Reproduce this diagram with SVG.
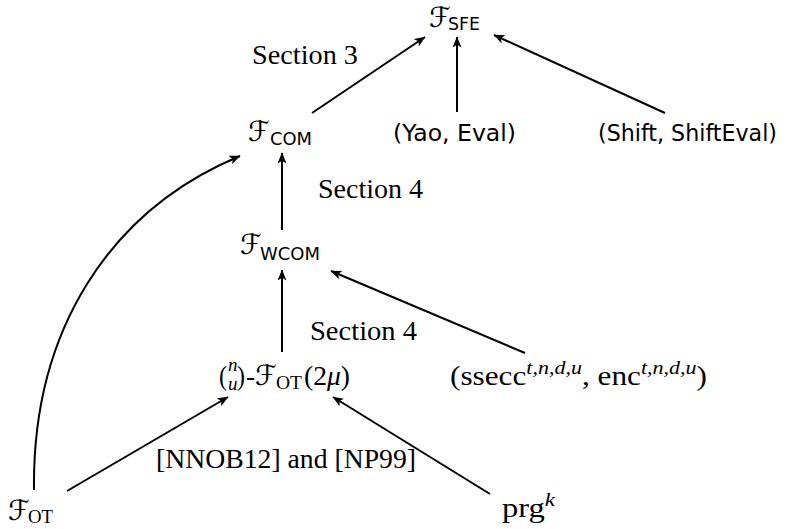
<svg xmlns="http://www.w3.org/2000/svg" width="795" height="529" viewBox="0 0 795 529">
  <style>
    .rm { font-family: "Liberation Serif", "DejaVu Serif", serif; font-size: 27px; fill: #000; }
    .sf { font-family: "DejaVu Sans", "Liberation Sans", sans-serif; font-size: 22.5px; fill: #000; }
    .cal { font-family: "DejaVu Sans", "DejaVu Serif", serif; font-size: 28px; fill: #000; }
    .sub-sf { font-family: "DejaVu Sans", "Liberation Sans", sans-serif; font-size: 17.5px; fill: #000; }
    .sub-rm { font-family: "Liberation Serif", "DejaVu Serif", serif; font-size: 19px; fill: #000; }
    .it { font-style: italic; }
    .sup { font-family: "Liberation Serif", "DejaVu Serif", serif; font-size: 19px; font-style: italic; }
    .edge { fill: none; stroke: #000; stroke-width: 2; marker-end: url(#tip); }
  </style>
  <defs>
    <marker id="tip" markerUnits="userSpaceOnUse" markerWidth="13" markerHeight="10" refX="10.5" refY="4.5" orient="auto">
      <path d="M0,0 L11,4.5 L0,9 L2.8,4.5 Z" fill="#000"/>
    </marker>
  </defs>

  <!-- connectors -->
  <g id="edges">
    <path class="edge" d="M312,113 L425,37"/>
    <path class="edge" d="M457,112 L457,37"/>
    <path class="edge" d="M665,113 L494,35"/>
    <path class="edge" d="M282,230 L282,153"/>
    <path class="edge" d="M282,352 L282,270"/>
    <path class="edge" d="M525,353 L331,271"/>
    <path class="edge" d="M67,491 L228,397"/>
    <path class="edge" d="M490,494 L333,397"/>
    <path class="edge" d="M34,490 C32,330 110,210 240,156"/>
  </g>

  <!-- edge labels -->
  <g id="labels">
    <text class="rm" x="252" y="64" textLength="106" lengthAdjust="spacingAndGlyphs">Section 3</text>
    <text class="rm" x="318" y="198" textLength="105" lengthAdjust="spacingAndGlyphs">Section 4</text>
    <text class="rm" x="310" y="340" textLength="107" lengthAdjust="spacingAndGlyphs">Section 4</text>
    <text class="rm" x="156" y="468" textLength="260" lengthAdjust="spacingAndGlyphs">[NNOB12] and [NP99]</text>
  </g>

  <!-- nodes -->
  <g id="n-sfe">
    <text class="cal" x="429" y="27" font-size="26">ℱ</text>
    <text class="sub-sf" x="448" y="30" textLength="32" lengthAdjust="spacingAndGlyphs">SFE</text>
  </g>
  <g id="n-com">
    <text class="cal" x="248" y="141">ℱ</text>
    <text class="sub-sf" x="270" y="145" textLength="42" lengthAdjust="spacingAndGlyphs">COM</text>
  </g>
  <g id="n-yao">
    <text class="sf" x="393" y="141" textLength="123" lengthAdjust="spacingAndGlyphs">(Yao, Eval)</text>
  </g>
  <g id="n-shift">
    <text class="sf" x="598" y="141" textLength="179" lengthAdjust="spacingAndGlyphs">(Shift, ShiftEval)</text>
  </g>
  <g id="n-wcom">
    <text class="cal" x="240" y="254">ℱ</text>
    <text class="sub-sf" x="260" y="260" textLength="60" lengthAdjust="spacingAndGlyphs">WCOM</text>
  </g>
  <g id="n-ot2mu">
    <text class="rm" x="219" y="385" font-size="34" textLength="8" lengthAdjust="spacingAndGlyphs">(</text>
    <text class="sub-rm it" x="228" y="371" font-size="17">n</text>
    <text class="sub-rm it" x="228" y="390" font-size="17">u</text>
    <text class="rm" x="237" y="385" font-size="34" textLength="8" lengthAdjust="spacingAndGlyphs">)</text>
    <text class="rm" x="246" y="385">-</text>
    <text class="cal" x="255" y="385">ℱ</text>
    <text class="sub-rm" x="276" y="389" textLength="26" lengthAdjust="spacingAndGlyphs">OT</text>
    <text class="rm" x="304" y="385" textLength="46" lengthAdjust="spacingAndGlyphs">(2<tspan class="it">μ</tspan>)</text>
  </g>
  <g id="n-ssecc">
    <text class="rm" x="450" y="385" textLength="257" lengthAdjust="spacingAndGlyphs">(ssecc<tspan class="sup" dy="-11">t,n,d,u</tspan><tspan dy="11">, enc</tspan><tspan class="sup" dy="-11">t,n,d,u</tspan><tspan dy="11">)</tspan></text>
  </g>
  <g id="n-ot">
    <text class="cal" x="8" y="520">ℱ</text>
    <text class="sub-rm" x="28" y="523" textLength="25" lengthAdjust="spacingAndGlyphs">OT</text>
  </g>
  <g id="n-prg">
    <text class="rm" x="502" y="517" textLength="53" lengthAdjust="spacingAndGlyphs">prg<tspan class="sup" dy="-11">k</tspan></text>
  </g>
</svg>
